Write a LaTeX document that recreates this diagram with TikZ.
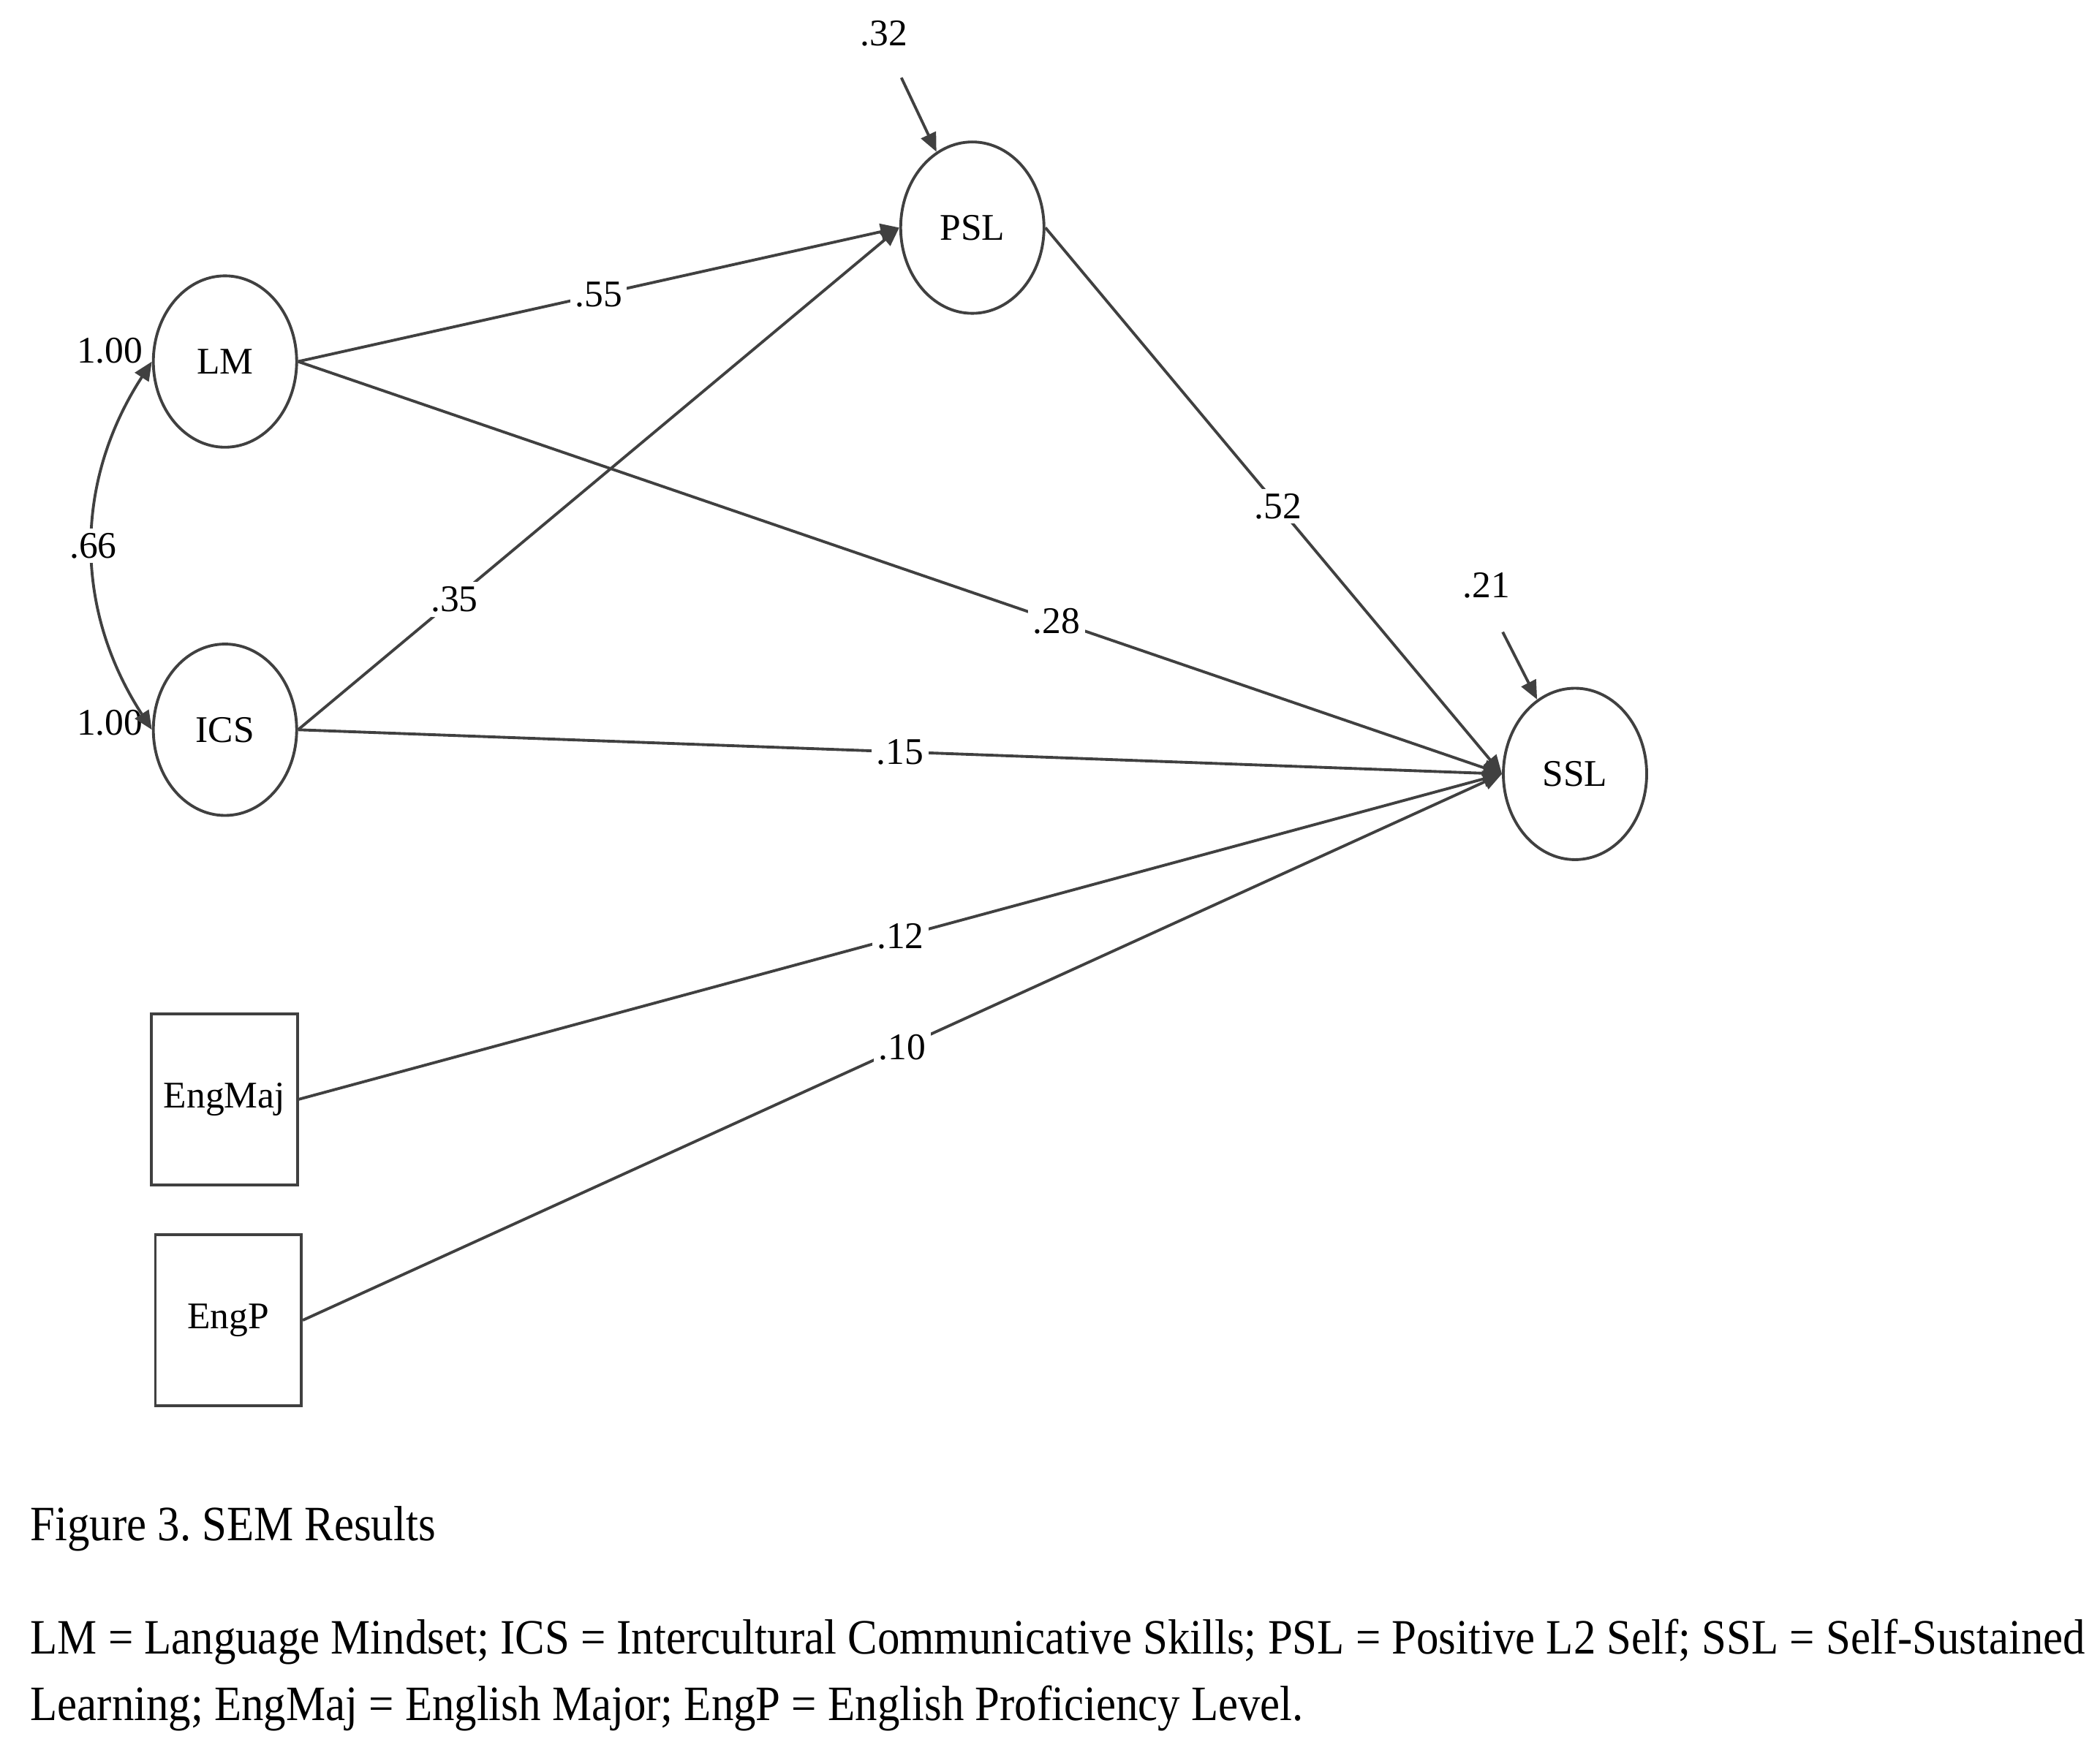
\documentclass[tikz,border=0pt]{standalone}
\usepackage{fontspec}
\setmainfont{Liberation Serif}
\newfontfamily\notefont[FakeStretch=0.9]{Liberation Serif}
\usetikzlibrary{shapes.geometric,arrows.meta,positioning}
\tikzstyle{latent} = [ellipse, draw=black!75, line width=0.6pt, minimum width=1.07cm, minimum height=1.28cm, inner sep=0pt, font=\fontsize{8}{9}\selectfont]
\tikzstyle{observed} = [rectangle, draw=black!75, line width=0.6pt, minimum width=1.09cm, minimum height=1.28cm, inner sep=0pt, font=\fontsize{8}{9}\selectfont]
\tikzstyle{coef} = [fill=white, inner sep=1pt, font=\fontsize{8}{9}\selectfont]
\tikzstyle{effect} = [draw=black!75, line width=0.6pt, -{Triangle[length=1.4mm,width=1.2mm]}]
\tikzstyle{caption} = [anchor=west, inner sep=0pt, font=\notefont\fontsize{10.5}{14.2}\selectfont]

\begin{document}
\frenchspacing
\begin{tikzpicture}
            \useasboundingbox (0,0) rectangle (15.68,-13.15);

            \node [latent] (PSL) at (7.26,-1.70) {PSL};
            \node [latent] (LM) at (1.68,-2.70) {LM};
            \node [latent] (ICS) at (1.68,-5.45) {ICS};
            \node [latent] (SSL) at (11.76,-5.78) {SSL};
            \node [observed] (EngMaj) at (1.675,-8.21) {EngMaj};
            \node [observed] (EngP) at (1.705,-9.86) {EngP};

            % residuals and variances
            \node [coef, fill=none] (rPSL) at (6.60,-0.25) {.32};
            \coordinate (ePSL) at (6.73,-0.58);
            \node [coef, fill=none] (rSSL) at (11.10,-4.37) {.21};
            \coordinate (eSSL) at (11.22,-4.72);
            \node [coef, fill=none] (vLM) at (0.82,-2.62) {1.00};
            \node [coef, fill=none] (vICS) at (0.82,-5.40) {1.00};

            \draw[effect](ePSL) -- (PSL);
            \draw[effect](eSSL) -- (SSL);

            \draw[effect, {Triangle[length=1.4mm,width=1.2mm]}-{Triangle[length=1.4mm,width=1.2mm]}](ICS.west) to[bend left=33] node[coef]{.66} (LM.west);

            \draw[effect](LM.east) -- node[coef, pos=0.5]{.55} (PSL.west);
            \draw[effect](ICS.east) -- node[coef, pos=0.26]{.35} (PSL.west);
            \draw[effect](LM.east) -- node[coef, pos=0.63]{.28} (SSL.west);
            \draw[effect](PSL.east) -- node[coef, pos=0.51]{.52} (SSL.west);
            \draw[effect](ICS.east) -- node[coef, pos=0.5]{.15} (SSL.west);
            \draw[effect](EngMaj.east) -- node[coef, pos=0.5]{.12} (SSL.west);
            \draw[effect](EngP.east) -- node[coef, pos=0.5]{.10} (SSL.west);

            \node [caption] (fig) at (0.22,-11.42) {Figure 3. SEM Results};
            \node [caption, align=left] (notes) at (0.22,-12.51) {LM = Language Mindset; ICS = Intercultural Communicative Skills; PSL = Positive L2 Self; SSL = Self-Sustained\\Learning; EngMaj = English Major; EngP = English Proficiency Level.};
        \end{tikzpicture}
\end{document}
